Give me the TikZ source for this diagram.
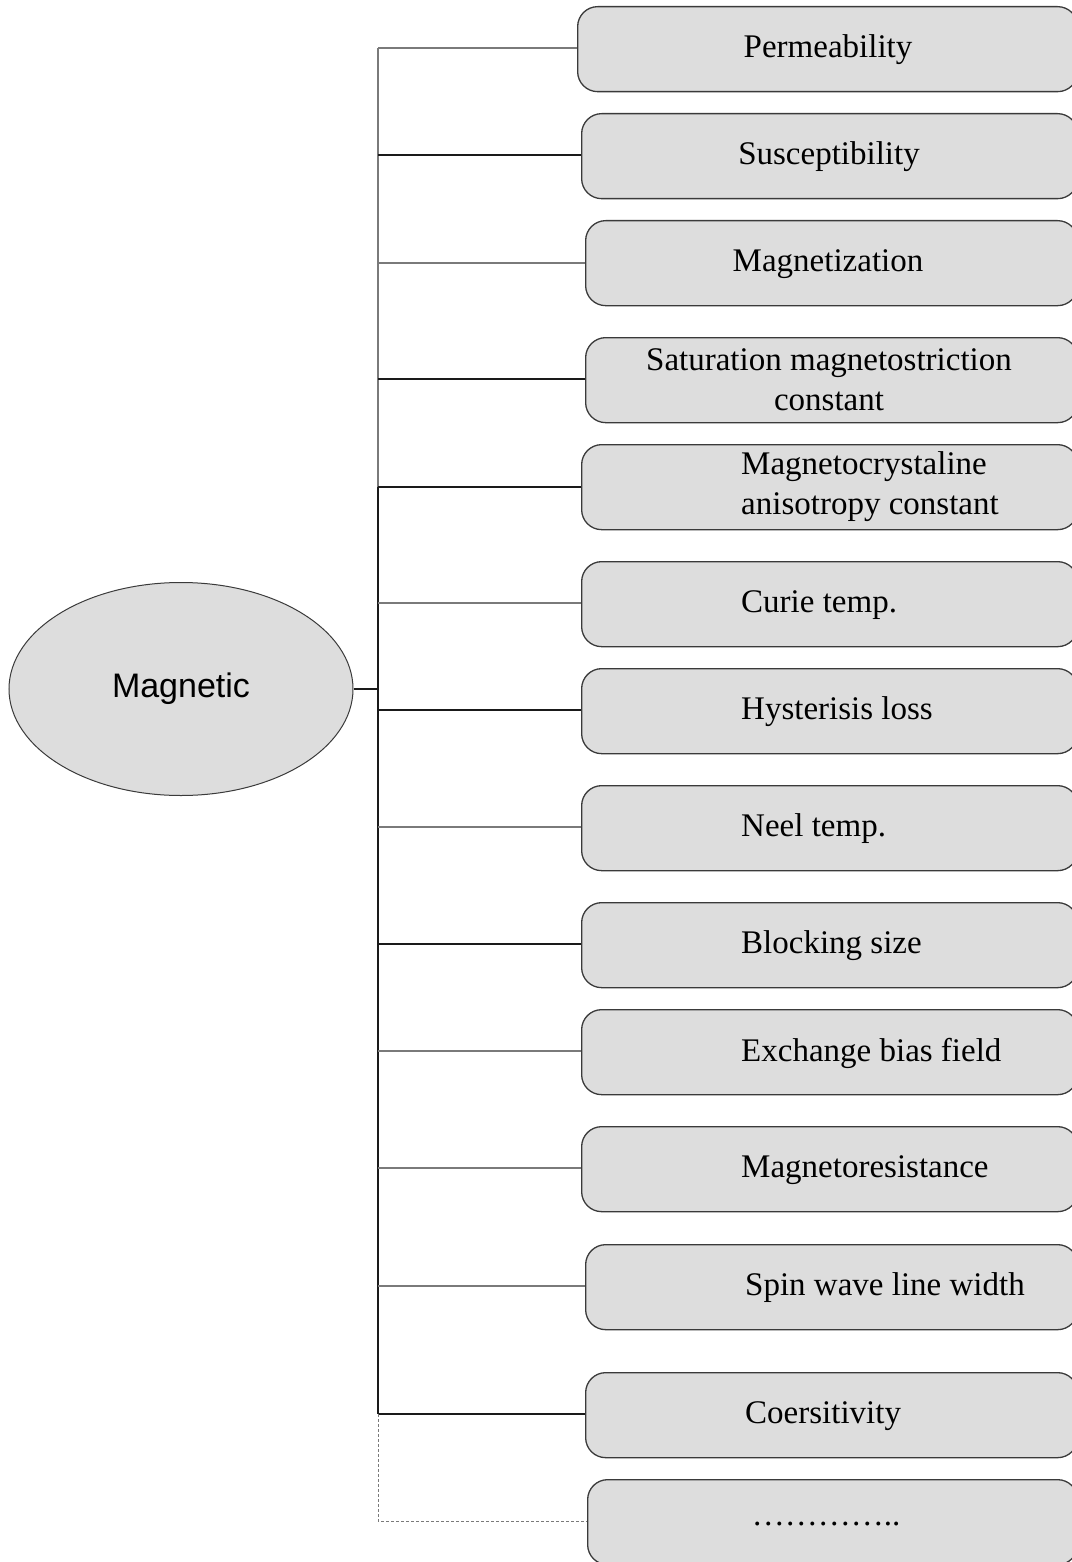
\documentclass[tikz,border=0pt]{standalone}
\usepackage{fontspec}
\setmainfont{Liberation Serif}
\newfontfamily\arialfont{Liberation Sans}
\usetikzlibrary{shapes.geometric}
\definecolor{boxfill}{HTML}{DDDDDD}
\definecolor{boxline}{HTML}{3A3A3A}
\definecolor{lightlink}{HTML}{7A7A7A}
\definecolor{darklink}{HTML}{1A1A1A}
\tikzset{
  x=1pt, y=-1pt,
  propbox/.style={draw=boxline, line width=1.3pt, fill=boxfill, rounded corners=20pt,
    minimum height=85pt, inner sep=0pt},
  proptext/.style={font=\fontsize{33}{40}\selectfont, align=center, inner sep=0pt, text=black},
  lefttext/.style={proptext, anchor=west, align=left},
  hub/.style={ellipse, draw=boxline, line width=1pt, fill=boxfill, minimum width=344pt,
    minimum height=213pt, inner sep=0pt, font=\arialfont\fontsize{34}{40}\selectfont},
  lightlinkstyle/.style={draw=lightlink, line width=1.3pt},
  darklinkstyle/.style={draw=darklink, line width=1.3pt},
  dashlink/.style={draw=lightlink, line width=1pt, dashed, dash pattern=on 3pt off 2pt}
}
\begin{document}
\begin{tikzpicture}
\useasboundingbox (0,0) rectangle (1071,1562);

% property boxes (left edge, top, bottom); they run past the right edge
\node[propbox, minimum width=500pt, anchor=north west] (b1)  at (577,6)    {};
\node[propbox, minimum width=496pt, anchor=north west] (b2)  at (581,113)  {};
\node[propbox, minimum width=492pt, anchor=north west] (b3)  at (585,220)  {};
\node[propbox, minimum width=492pt, anchor=north west] (b4)  at (585,337)  {};
\node[propbox, minimum width=496pt, anchor=north west] (b5)  at (581,444)  {};
\node[propbox, minimum width=496pt, anchor=north west] (b6)  at (581,561)  {};
\node[propbox, minimum width=496pt, anchor=north west] (b7)  at (581,668)  {};
\node[propbox, minimum width=496pt, anchor=north west] (b8)  at (581,785)  {};
\node[propbox, minimum width=496pt, anchor=north west] (b9)  at (581,902)  {};
\node[propbox, minimum width=496pt, anchor=north west] (b10) at (581,1009) {};
\node[propbox, minimum width=496pt, anchor=north west] (b11) at (581,1126) {};
\node[propbox, minimum width=492pt, anchor=north west] (b12) at (585,1244) {};
\node[propbox, minimum width=492pt, anchor=north west] (b13) at (585,1372) {};
\node[propbox, minimum width=490pt, anchor=north west] (b14) at (587,1479) {};

% labels
\node[proptext] (t1) at (828,50)  {Permeability};
\node[proptext] (t2) at (829,157) {Susceptibility};
\node[proptext] (t3) at (828,264) {Magnetization};
\node[proptext] (t4) at (829,380) {Saturation magnetostriction\\constant};
\node[lefttext] (t5) at (741,487) {Magnetocrystaline\\anisotropy constant};
\node[lefttext] (t6) at (741,605) {Curie temp.};
\node[lefttext] (t7) at (741,712) {Hysterisis loss};
\node[lefttext] (t8) at (741,829) {Neel temp.};
\node[lefttext] (t9) at (741,946) {Blocking size};
\node[lefttext] (t10) at (741,1053) {Exchange bias field};
\node[lefttext] (t11) at (741,1170) {Magnetoresistance};
\node[lefttext] (t12) at (745,1288) {Spin wave line width};
\node[lefttext] (t13) at (745,1416) {Coersitivity};
\node[proptext] (t14) at (826,1524) {\ldots\ldots\ldots\ldots..};

% central ellipse
\node[hub] (mag) at (181,689) {Magnetic};

% bus coordinates
\coordinate (j)   at (378,689);
\foreach \i/\y in {1/48,2/155,3/263,4/379,5/487,6/603,7/710,8/827,9/944,10/1051,11/1168,12/1286,13/1414,14/1521}
  \coordinate (c\i) at (378,\y);

% bus
\draw[lightlinkstyle] (c1) -- (c5);
\draw[darklinkstyle] (c5) -- (c13);
\draw[darklinkstyle] (mag.east) -- (j);

% branches
\draw[lightlinkstyle] (c1) -- (b1.west |- c1);
\draw[darklinkstyle]  (c2) -- (b2.west |- c2);
\draw[lightlinkstyle] (c3) -- (b3.west |- c3);
\draw[darklinkstyle]  (c4) -- (b4.west |- c4);
\draw[darklinkstyle]  (c5) -- (b5.west |- c5);
\draw[lightlinkstyle] (c6) -- (b6.west |- c6);
\draw[darklinkstyle]  (c7) -- (b7.west |- c7);
\draw[lightlinkstyle] (c8) -- (b8.west |- c8);
\draw[darklinkstyle]  (c9) -- (b9.west |- c9);
\draw[lightlinkstyle] (c10) -- (b10.west |- c10);
\draw[lightlinkstyle] (c11) -- (b11.west |- c11);
\draw[lightlinkstyle] (c12) -- (b12.west |- c12);
\draw[darklinkstyle]  (c13) -- (b13.west |- c13);
\draw[dashlink] (c13) -- (c14) -- (b14.west |- c14);
\end{tikzpicture}
\end{document}
